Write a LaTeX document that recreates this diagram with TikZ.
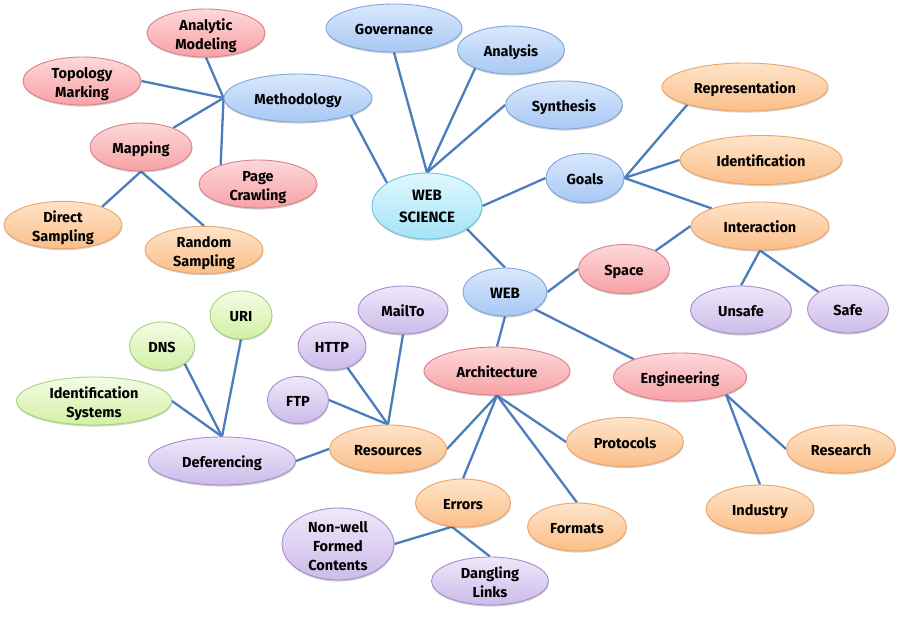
\documentclass[tikz,border=0pt]{standalone}
\usepackage{fontspec}
\setmainfont{Fira Sans}
\usetikzlibrary{shapes.geometric,shadows}
\definecolor{edgec}{HTML}{4A7DBE}
\definecolor{pinkt}{HTML}{FDD8D9}\definecolor{pinkb}{HTML}{F7A2A6}\definecolor{pinkd}{HTML}{D9838A}
\definecolor{bluet}{HTML}{D9E8FD}\definecolor{blueb}{HTML}{A8C8F4}\definecolor{blued}{HTML}{7FA6DA}
\definecolor{cyant}{HTML}{DFF8FD}\definecolor{cyanb}{HTML}{A4E3F6}\definecolor{cyand}{HTML}{70C4E0}
\definecolor{orat}{HTML}{FEE4C9}\definecolor{orab}{HTML}{FBBE88}\definecolor{orad}{HTML}{EEA466}
\definecolor{purt}{HTML}{EFE8F9}\definecolor{purb}{HTML}{CCBBEA}\definecolor{purd}{HTML}{A58DCE}
\definecolor{grnt}{HTML}{F4FCE6}\definecolor{grnb}{HTML}{D2F0A4}\definecolor{grnd}{HTML}{A9D57A}
\pgfdeclarelayer{bglayer}
\pgfdeclarelayer{edgelayer}
\pgfsetlayers{bglayer,edgelayer,main}
\tikzset{
  bub/.style={ellipse, inner xsep=0pt, inner ysep=-4pt, line width=0.9pt, align=center, text=black,
    font=\bfseries\fontsize{14.5}{19}\selectfont, text height=15pt, text depth=1.6pt,
    drop shadow={shadow xshift=0.4pt, shadow yshift=-1.6pt, opacity=0.18, fill=black}},
  ml/.style={text height=37.5pt, text depth=4pt},
  mlthree/.style={text height=56.5pt, text depth=4pt, inner ysep=-5pt},
  pinkn/.style={bub, draw=pinkd, top color=pinkt, bottom color=pinkb},
  bluen/.style={bub, draw=blued, top color=bluet, bottom color=blueb},
  cyann/.style={bub, draw=cyand, top color=cyant, bottom color=cyanb},
  oran/.style={bub, draw=orad, top color=orat, bottom color=orab},
  purn/.style={bub, draw=purd, top color=purt, bottom color=purb},
  grnn/.style={bub, draw=grnd, top color=grnt, bottom color=grnb},
  sz/.style args={#1x#2}{minimum width=#1pt, minimum height=#2pt},
  link/.style={draw=edgec, line width=2.3pt}
}
\begin{document}
\begin{tikzpicture}[x=1pt,y=-1pt]
\begin{pgfonlayer}{bglayer}
\fill[white] (0,0) rectangle (900,620);
\end{pgfonlayer}
\useasboundingbox (0,0) rectangle (900,620);
% Methodology cluster
\node[bluen, sz=148x48] (meth) at (298,98) {Methodology};
\node[pinkn, ml, sz=118x48] (analytic) at (206,33) {Analytic\\Modeling};
\node[pinkn, ml, sz=118x48] (topo) at (82,81) {Topology\\Marking};
\node[pinkn, sz=102x48] (mapping) at (141,147) {Mapping};
\node[pinkn, ml, sz=118x48] (page) at (258,184) {Page\\Crawling};
\node[oran, ml, sz=118x47] (direct) at (63,225) {Direct\\Sampling};
\node[oran, ml, sz=118x47] (random) at (204,250) {Random\\Sampling};
% Web science core
\node[cyann, sz=110x66, text height={}, text depth={}, font=\bfseries\fontsize{15}{22}\selectfont] (ws) at (427,206) {WEB\\SCIENCE};
\node[bluen, sz=136x48] (gov) at (394,28) {Governance};
\node[bluen, sz=107x48] (ana) at (511,50) {Analysis};
\node[bluen, sz=117x48] (syn) at (564,105) {Synthesis};
\node[bluen, sz=78x49] (goals) at (585,178) {Goals};
\node[oran, sz=166x48] (rep) at (745,87) {Representation};
\node[oran, sz=162x49] (ident) at (761,160) {Identification};
\node[oran, sz=138x48] (inter) at (760,226) {Interaction};
\node[bluen, sz=84x48, font=\bfseries\fontsize{15}{19}\selectfont] (web) at (505,292) {WEB};
\node[pinkn, sz=91x49] (space) at (624,269) {Space};
\node[purn, sz=101x48] (unsafe) at (741,310) {Unsafe};
\node[purn, sz=81x48] (safe) at (848,309) {Safe};
\node[pinkn, sz=146x48] (arch) at (497,371) {Architecture};
\node[pinkn, sz=133x48] (eng) at (680,377) {Engineering};
% Resources cluster
\node[purn, sz=90x48] (mailto) at (403,310) {MailTo};
\node[purn, sz=68x48] (http) at (332,346) {HTTP};
\node[purn, sz=61x47] (ftp) at (298,400) {FTP};
\node[oran, sz=117x48] (res) at (388,449) {Resources};
\node[oran, sz=117x49] (prot) at (625,442) {Protocols};
\node[oran, sz=109x48] (research) at (841,449) {Research};
\node[oran, sz=108x48] (industry) at (760,509) {Industry};
\node[oran, sz=99x48] (formats) at (577,527) {Formats};
\node[oran, sz=95x48] (errors) at (463,503) {Errors};
\node[purn, mlthree, sz=112x72] (nonwell) at (338,544) {Non-well\\Formed\\Contents};
\node[purn, ml, sz=117x48] (dangling) at (490,581) {Dangling\\Links};
% Deferencing cluster
\node[grnn, sz=62x48] (uri) at (241,315) {URI};
\node[grnn, sz=65x48] (dns) at (162,346) {DNS};
\node[grnn, ml, sz=155x48] (idsys) at (94,401) {Identification\\Systems};
\node[purn, sz=147x48] (def) at (222,461) {Deferencing};
\begin{pgfonlayer}{edgelayer}
\draw[link] (meth.west) -- (analytic.south);
\draw[link] (meth.west) -- (topo.east);
\draw[link] (meth.west) -- (mapping);
\draw[link] (meth.west) -- (page.153);
\draw[link] (mapping.south) -- (direct.25);
\draw[link] (mapping.south) -- (random.north);
\draw[link] (meth.-18) -- (ws.150);
\draw[link] (ws.north) -- (gov.south);
\draw[link] (ws.north) -- (ana.207);
\draw[link] (ws.north) -- (syn.west);
\draw[link] (ws.east) -- (goals.west);
\draw[link] (goals.east) -- (rep.197);
\draw[link] (goals.east) -- (ident.west);
\draw[link] (goals.east) -- (inter.160);
\draw[link] (ws.-30) -- (web.north);
\draw[link] (web.east) -- (space.west);
\draw[link] (space.30) -- (inter.west);
\draw[link] (inter.south) -- (unsafe.north);
\draw[link] (inter.south) -- (safe.150);
\draw[link] (web.south) -- (arch.north);
\draw[link] (web.-30) -- (eng.159);
\draw[link] (arch.south) -- (res.east);
\draw[link] (arch.south) -- (errors.north);
\draw[link] (arch.south) -- (formats.north);
\draw[link] (arch.south) -- (prot.west);
\draw[link] (eng.-21) -- (research.west);
\draw[link] (eng.-21) -- (industry.north);
\draw[link] (errors.-115) -- (nonwell.east);
\draw[link] (errors.-115) -- (dangling.north);
\draw[link] (res.north) -- (http);
\draw[link] (res.north) -- (mailto.south);
\draw[link] (res.north) -- (ftp.east);
\draw[link] (res.west) -- (def.east);
\draw[link] (def.north) -- (dns.-38);
\draw[link] (def.north) -- (uri.south);
\draw[link] (def.north) -- (idsys.east);
\end{pgfonlayer}
\end{tikzpicture}
\end{document}
